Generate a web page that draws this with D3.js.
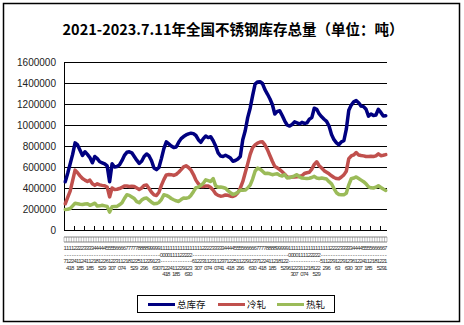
<!DOCTYPE html>
<html>
<head>
<meta charset="utf-8">
<script src="https://cdn.jsdelivr.net/npm/d3@7"></script>
<style>
  html, body { margin: 0; padding: 0; background: #fff; }
  svg { display: block; }
</style>
</head>
<body>
<svg id="chart" width="464" height="325"></svg>
<script>
// Weekly sampling dates (month-day), 2021-01-07 .. 2023-07-11
const dates = [
  "1-7","1-14","1-21","1-28","2-4","2-11","2-18","2-25","3-4","3-11","3-18","3-25",
  "4-1","4-8","4-15","4-22","4-29","5-6","5-13","5-20","5-27","6-3","6-10","6-17","6-24",
  "7-1","7-8","7-15","7-22","7-29","8-5","8-12","8-19","8-26","9-2","9-9","9-16","9-23","9-30",
  "10-7","10-14","10-21","10-28","11-4","11-11","11-18","11-25","12-2","12-9","12-16","12-23","12-30",
  "1-6","1-13","1-20","1-27","2-3","2-10","2-17","2-24","3-3","3-10","3-17","3-24","3-31",
  "4-7","4-14","4-21","4-28","5-5","5-12","5-19","5-26","6-2","6-9","6-16","6-23","6-30",
  "7-7","7-14","7-21","7-28","8-4","8-11","8-18","8-25","9-1","9-8","9-15","9-22","9-29",
  "10-6","10-13","10-20","10-27","11-3","11-10","11-17","11-24","12-1","12-8","12-15","12-22","12-29",
  "1-5","1-12","1-19","1-26","2-2","2-9","2-16","2-23","3-2","3-9","3-16","3-23","3-30",
  "4-6","4-13","4-20","4-27","5-4","5-11","5-18","5-25","6-1","6-8","6-15","6-22","6-29","7-11"
];

// 总库存 (tonnes)
const totalStock = [
  460000,540000,630000,720000,830000,810000,760000,710000,745000,720000,690000,640000,
  700000,680000,650000,640000,630000,610000,460000,630000,600000,605000,620000,660000,710000,
  740000,745000,735000,700000,665000,635000,655000,700000,724000,705000,660000,590000,575000,595000,
  680000,775000,840000,820000,800000,785000,790000,835000,870000,890000,905000,915000,922000,
  918000,900000,860000,835000,870000,895000,880000,888000,850000,800000,735000,705000,700000,
  712000,700000,685000,655000,662000,676000,700000,860000,945000,1070000,1160000,1280000,1390000,
  1410000,1412000,1395000,1336000,1295000,1250000,1195000,1105000,1130000,1135000,1090000,1040000,1000000,
  990000,1005000,1030000,1020000,1010000,1025000,1015000,1020000,1055000,1070000,1160000,1150000,1105000,
  1078000,1055000,1035000,990000,910000,860000,830000,812000,840000,850000,960000,1140000,1190000,
  1220000,1232000,1212000,1180000,1175000,1150000,1085000,1105000,1090000,1095000,1150000,1120000,1085000,1088000
];

// 冷轧 (tonnes)
const coldRolled = [
  250000,310000,370000,470000,570000,545000,515000,490000,475000,462000,475000,440000,
  425000,440000,430000,425000,422000,410000,315000,400000,385000,388000,395000,405000,420000,
  418000,415000,416000,414000,400000,386000,400000,425000,428000,395000,360000,335000,328000,360000,
  425000,480000,525000,528000,527000,520000,530000,550000,575000,602000,612000,595000,570000,
  528000,475000,440000,415000,415000,418000,420000,405000,380000,345000,330000,322000,325000,
  334000,330000,322000,320000,330000,355000,400000,460000,545000,630000,720000,785000,810000,
  828000,838000,840000,810000,765000,710000,655000,605000,592000,575000,555000,532000,505000,
  500000,505000,505000,508000,512000,516000,538000,545000,550000,580000,625000,650000,612000,
  590000,565000,550000,535000,516000,500000,490000,488000,505000,525000,560000,680000,705000,
  715000,738000,715000,710000,706000,700000,700000,702000,700000,706000,725000,708000,712000,718000
];

// 热轧 (tonnes)
const hotRolled = [
  195000,198000,205000,230000,255000,250000,245000,243000,248000,250000,235000,245000,
  255000,228000,230000,235000,230000,225000,170000,222000,225000,225000,240000,258000,300000,
  335000,330000,315000,300000,270000,260000,285000,300000,305000,285000,265000,250000,252000,262000,
  290000,335000,330000,318000,300000,288000,278000,272000,290000,305000,302000,308000,330000,
  365000,402000,408000,425000,445000,478000,470000,462000,490000,420000,408000,410000,405000,
  398000,375000,355000,338000,345000,360000,378000,378000,380000,400000,428000,485000,560000,
  590000,580000,560000,538000,540000,535000,527000,532000,536000,520000,515000,527000,495000,
  500000,505000,515000,527000,505000,495000,492000,490000,493000,500000,511000,495000,490000,
  495000,490000,485000,460000,440000,395000,355000,338000,336000,336000,350000,430000,488000,
  495000,505000,490000,475000,460000,440000,410000,402000,400000,408000,422000,405000,390000,377000
];

const yTicks = [0, 200000, 400000, 600000, 800000, 1000000, 1200000, 1400000, 1600000];

const seriesNames = ["总库存", "冷轧", "热轧"];
const seriesColors = ["#000080", "#C0504D", "#9BBB59"];
const seriesData = [totalStock, coldRolled, hotRolled];

const svg = d3.select("#chart");
const plot = { left: 64, right: 387, top: 62, bottom: 230 };

// outer chart frame
svg.append("rect")
  .attr("x", 3.5).attr("y", 3.5)
  .attr("width", 456).attr("height", 318)
  .attr("fill", "#fff").attr("stroke", "#000").attr("stroke-width", 1.5);

// title
svg.append("text")
  .attr("x", 233).attr("y", 35)
  .attr("text-anchor", "middle")
  .attr("font-family", "'Noto Sans CJK SC', sans-serif")
  .attr("font-weight", "bold")
  .attr("font-size", 14.5)
  .attr("fill", "#000")
  .text("2021-2023.7.11年全国不锈钢库存总量（单位：吨）");

const n = dates.length;
const x = d3.scaleBand().domain(d3.range(n)).range([plot.left, plot.right]).paddingInner(0).paddingOuter(0);
const cx = i => x(i) + x.bandwidth() / 2;
const y = d3.scaleLinear().domain([0, 1600000]).range([plot.bottom, plot.top]);

// horizontal gridlines
svg.append("g")
  .attr("transform", `translate(${plot.left},0)`)
  .call(d3.axisLeft(y).tickValues(yTicks).tickSize(-(plot.right - plot.left)).tickFormat(""))
  .call(g => g.select(".domain").remove())
  .call(g => g.selectAll("line").attr("stroke", "#000").attr("stroke-width", 1).attr("shape-rendering", "crispEdges"));

// y axis labels
svg.append("g")
  .attr("transform", `translate(${plot.left},0)`)
  .call(d3.axisLeft(y).tickValues(yTicks).tickSize(0).tickPadding(8).tickFormat(d3.format("d")))
  .call(g => g.select(".domain").attr("stroke", "#000").attr("shape-rendering", "crispEdges"))
  .call(g => g.selectAll("text")
    .attr("font-family", "'Liberation Sans', Arial, sans-serif")
    .attr("font-size", 10)
    .attr("fill", "#222"));

// x axis: baseline and inward tick marks every 4 weeks
svg.append("line")
  .attr("x1", plot.left).attr("x2", plot.right)
  .attr("y1", plot.bottom + 0.5).attr("y2", plot.bottom + 0.5)
  .attr("stroke", "#000");
const tickIdx = d3.range(0, n, 4);
svg.append("g").selectAll("line")
  .data(tickIdx)
  .join("line")
  .attr("x1", i => Math.round(x(i)) + 0.5).attr("x2", i => Math.round(x(i)) + 0.5)
  .attr("y1", plot.bottom - 4).attr("y2", plot.bottom)
  .attr("stroke", "#000");

// category label band with dividers
const band = svg.append("g").attr("opacity", 0.75);
band.append("line").attr("x1", plot.left).attr("x2", plot.right)
  .attr("y1", 237).attr("y2", 237).attr("stroke", "#333").attr("stroke-width", 0.8);
band.append("line").attr("x1", plot.left).attr("x2", plot.right)
  .attr("y1", 242).attr("y2", 242).attr("stroke", "#333").attr("stroke-width", 0.8);
band.selectAll("line.div")
  .data(d3.range(n + 1))
  .join("line")
  .attr("class", "div")
  .attr("x1", i => plot.left + i * x.step()).attr("x2", i => plot.left + i * x.step())
  .attr("y1", 237).attr("y2", 242)
  .attr("stroke", "#555").attr("stroke-width", 0.5);

// stacked date labels
const lbl = svg.append("g")
  .attr("font-family", "'Liberation Sans', Arial, sans-serif")
  .attr("font-size", 6)
  .attr("fill", "#333")
  .attr("text-anchor", "middle");
lbl.selectAll("text")
  .data(dates)
  .join("text")
  .attr("x", (d, i) => cx(i))
  .attr("y", 250)
  .selectAll("tspan")
  .data(d => d.split(""))
  .join("tspan")
  .attr("x", function () { return this.parentNode.getAttribute("x"); })
  .attr("dy", (c, j) => j === 0 ? 0 : 6.5)
  .text(c => c);

// series lines
const line = d3.line().x((d, i) => cx(i)).y(d => y(d)).curve(d3.curveLinear);
seriesData.forEach((vals, k) => {
  svg.append("path")
    .datum(vals)
    .attr("d", line)
    .attr("fill", "none")
    .attr("stroke", seriesColors[k])
    .attr("stroke-width", 3.5)
    .attr("stroke-linejoin", "round")
    .attr("stroke-linecap", "round");
});

// legend
const lg = svg.append("g");
lg.append("rect")
  .attr("x", 137.5).attr("y", 295.5).attr("width", 197).attr("height", 17)
  .attr("fill", "#fff").attr("stroke", "#000").attr("stroke-width", 1);
const legendX = [148, 218, 277];
seriesNames.forEach((name, k) => {
  lg.append("line")
    .attr("x1", legendX[k]).attr("x2", legendX[k] + 27)
    .attr("y1", 304.5).attr("y2", 304.5)
    .attr("stroke", seriesColors[k]).attr("stroke-width", 3);
  lg.append("text")
    .attr("x", legendX[k] + 29).attr("y", 307.5)
    .attr("font-family", "'Noto Sans CJK SC', sans-serif")
    .attr("font-size", 9.5)
    .attr("fill", "#111")
    .text(name);
});
</script>
</body>
</html>
